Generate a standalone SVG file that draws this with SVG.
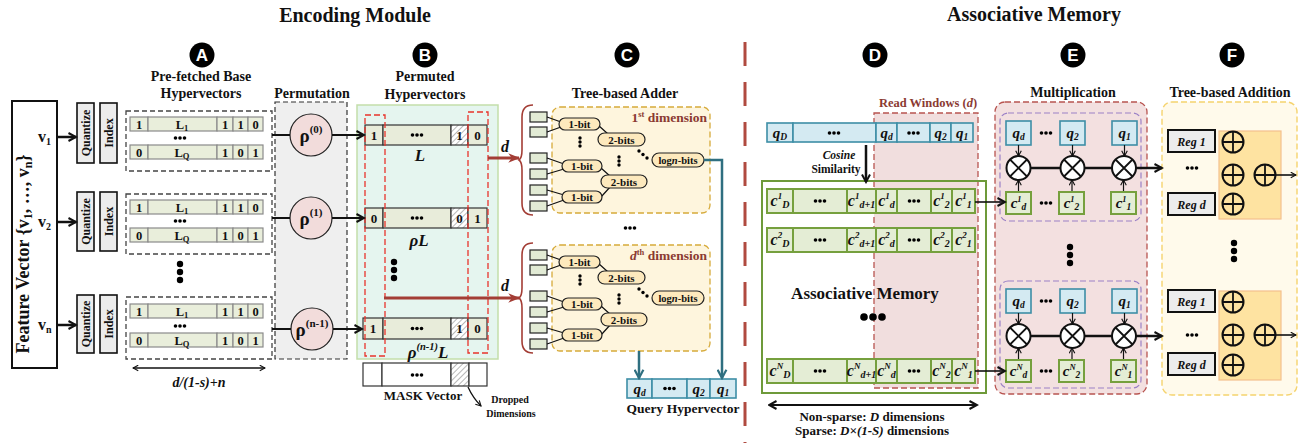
<svg xmlns="http://www.w3.org/2000/svg" width="1304" height="443" viewBox="0 0 1304 443">
<style>
text{font-family:"Liberation Serif","Times New Roman",serif;font-weight:bold;fill:#111}
.m{text-anchor:middle}
.i{font-style:italic}
.lt{font-family:"Liberation Sans",Arial,sans-serif;fill:#fff}
.dr{fill:#8b3a32}
.box{fill:#fff;stroke:#111;stroke-width:2}
.gbox{fill:#ececec;stroke:#111;stroke-width:1.6}
.dash{fill:none;stroke:#444;stroke-width:1.3;stroke-dasharray:5 3}
.ca{fill:#e9eedb;stroke:#8a8a8a;stroke-width:1.2}
.cb{fill:#e8ecda;stroke:#333;stroke-width:1.2}
.cw{fill:#fff;stroke:#333;stroke-width:1.2}
.hat{fill:url(#hatch);stroke:#333;stroke-width:1.2}
.rho{fill:#f2dcdb;stroke:#222;stroke-width:1.2}
.red{fill:none;stroke:#e8332b;stroke-width:1.3;stroke-dasharray:6 3}
.sq{fill:#e2ebd5;stroke:#222;stroke-width:1.2}
.pill{fill:#fde9bd;stroke:#222;stroke-width:1.2}
.ln{stroke:#111;stroke-width:1.2;fill:none}
.ybox{fill:#fef5dd;stroke:#d6aa3a;stroke-width:1.3;stroke-dasharray:6 3}
.brace{fill:none;stroke:#a33d35;stroke-width:1.6}
.darr{stroke:#a33d35;stroke-width:3;fill:none;marker-end:url(#ma-red)}
.teal{stroke:#2f6f80;stroke-width:2.5;fill:none;marker-end:url(#ma-teal)}
.q{fill:#d4eaf2;stroke:#3d8ea6;stroke-width:1.6}
.c{fill:#e4edd5;stroke:#76a03e;stroke-width:2}
.ar{stroke:#111;stroke-width:2.5;fill:none;marker-end:url(#ma)}
.ars{stroke:#111;stroke-width:1.2;fill:none;marker-end:url(#ma-s)}
.op{fill:#fff;stroke:#111;stroke-width:2}
.opl{stroke:#111;stroke-width:1.8}
.pink{fill:#f3e0e0;stroke:#b85450;stroke-width:1.3;stroke-dasharray:6 3}
.purp{fill:none;stroke:#9b80c6;stroke-width:1.2;stroke-dasharray:6 3}
.fbox{fill:#fffaeb;stroke:#f5d36e;stroke-width:1.4;stroke-dasharray:6 3}
.orng{fill:#fee3a1;stroke:#f3c08e;stroke-width:1.2}
.reg{fill:#ececec;stroke:#111;stroke-width:2}
</style>
<defs>
<pattern id="hatch" width="4" height="4" patternUnits="userSpaceOnUse" patternTransform="rotate(45)">
<rect width="4" height="4" fill="#fff"/><line x1="0" y1="0" x2="0" y2="4" stroke="#888" stroke-width="1.2"/>
</pattern>
<marker id="ma" viewBox="0 0 10 10" refX="8.5" refY="5" markerWidth="10" markerHeight="10" markerUnits="userSpaceOnUse" orient="auto-start-reverse"><path d="M1,1 L8.5,5 L1,9" fill="none" stroke="#111" stroke-width="2"/></marker>
<marker id="ma-s" viewBox="0 0 10 10" refX="8.5" refY="5" markerWidth="7" markerHeight="7" markerUnits="userSpaceOnUse" orient="auto-start-reverse"><path d="M1,1 L8.5,5 L1,9" fill="none" stroke="#111" stroke-width="1.6"/></marker>
<marker id="ma-red" viewBox="0 0 10 10" refX="9" refY="5" markerWidth="12" markerHeight="12" markerUnits="userSpaceOnUse" orient="auto"><path d="M0,1 L10,5 L0,9 L3,5 z" fill="#a33d35"/></marker>
<marker id="ma-teal" viewBox="0 0 10 10" refX="8.5" refY="5" markerWidth="11" markerHeight="11" markerUnits="userSpaceOnUse" orient="auto"><path d="M1,1 L8.5,5 L1,9" fill="none" stroke="#2f6f80" stroke-width="2"/></marker>
<g id="hd"><circle cx="-4.5" r="1.8"/><circle r="1.8"/><circle cx="4.5" r="1.8"/></g>
<g id="vd"><circle cy="-8" r="3.2"/><circle r="3.2"/><circle cy="8" r="3.2"/></g>
<g id="vds"><circle cy="-4" r="1.7"/><circle r="1.7"/><circle cy="4" r="1.7"/></g>
</defs>

<rect width="1304" height="443" fill="#fff"/>

<!-- Titles -->
<text x="355" y="22" class="m" font-size="20">Encoding Module</text>
<text x="1034" y="21" class="m" font-size="20">Associative Memory</text>
<g id="letters">
<circle cx="202" cy="55" r="12.5" fill="#000"/><text x="202" y="61" class="m lt" font-size="17">A</text>
<circle cx="425" cy="55" r="12.5" fill="#000"/><text x="425" y="61" class="m lt" font-size="17">B</text>
<circle cx="627" cy="55" r="12.5" fill="#000"/><text x="627" y="61" class="m lt" font-size="17">C</text>
<circle cx="875" cy="55" r="12.5" fill="#000"/><text x="875" y="61" class="m lt" font-size="17">D</text>
<circle cx="1073" cy="55" r="12.5" fill="#000"/><text x="1073" y="61" class="m lt" font-size="17">E</text>
<circle cx="1232" cy="55" r="12.5" fill="#000"/><text x="1232" y="61" class="m lt" font-size="17">F</text>
</g>

<!-- Feature vector -->
<g id="feature-vector">
<rect x="12" y="101" width="45" height="267" class="box"/>
<text class="m" font-size="18" transform="translate(29,254) rotate(-90)">Feature Vector {v<tspan font-size="12" dy="3">1</tspan><tspan dy="-3">, …, v</tspan><tspan font-size="12" dy="3">n</tspan><tspan dy="-3">}</tspan></text>
<text x="38" y="142" font-size="16">v<tspan font-size="10" dy="3">1</tspan></text>
<text x="38" y="227" font-size="16">v<tspan font-size="10" dy="3">2</tspan></text>
<text x="38" y="330" font-size="16">v<tspan font-size="10" dy="3">n</tspan></text>
</g>

<g id="quantize-index">
<rect x="77" y="103" width="17" height="60" class="gbox"/>
<text class="m" font-size="12" transform="translate(89.5,133) rotate(-90)">Quantize</text>
<rect x="100" y="103" width="17" height="60" class="gbox"/>
<text class="m" font-size="12" transform="translate(112.5,133) rotate(-90)">Index</text>
<rect x="77" y="192" width="17" height="59" class="gbox"/>
<text class="m" font-size="12" transform="translate(89.5,221.5) rotate(-90)">Quantize</text>
<rect x="100" y="192" width="17" height="59" class="gbox"/>
<text class="m" font-size="12" transform="translate(112.5,221.5) rotate(-90)">Index</text>
<rect x="77" y="295" width="17" height="58" class="gbox"/>
<text class="m" font-size="12" transform="translate(89.5,324) rotate(-90)">Quantize</text>
<rect x="100" y="295" width="17" height="58" class="gbox"/>
<text class="m" font-size="12" transform="translate(112.5,324) rotate(-90)">Index</text>
</g>

<!-- A: base hypervectors -->
<g id="base-hypervectors">
<text x="201" y="81" class="m" font-size="14">Pre-fetched Base</text>
<text x="201" y="98" class="m" font-size="14">Hypervectors</text>
<g id="base-group-1" transform="translate(0,111)">
<rect x="126" y="0" width="146" height="60" class="dash"/>
<rect x="130" y="6" width="18" height="14" class="ca"/><rect x="148" y="6" width="69" height="14" class="ca"/><rect x="217" y="6" width="16" height="14" class="ca"/><rect x="233" y="6" width="15" height="14" class="ca"/><rect x="248" y="6" width="15" height="14" class="ca"/>
<text x="139" y="17.5" class="m" font-size="12.5">1</text><text x="182" y="17.5" class="m" font-size="12.5">L<tspan font-size="8.5" dy="2">1</tspan></text><text x="225" y="17.5" class="m" font-size="12.5">1</text><text x="240.5" y="17.5" class="m" font-size="12.5">1</text><text x="255.5" y="17.5" class="m" font-size="12.5">0</text>
<use href="#hd" x="180" y="27"/>
<rect x="130" y="34" width="18" height="14" class="ca"/><rect x="148" y="34" width="69" height="14" class="ca"/><rect x="217" y="34" width="16" height="14" class="ca"/><rect x="233" y="34" width="15" height="14" class="ca"/><rect x="248" y="34" width="15" height="14" class="ca"/>
<text x="139" y="45.5" class="m" font-size="12.5">0</text><text x="182" y="45.5" class="m" font-size="12.5">L<tspan font-size="8.5" dy="2">Q</tspan></text><text x="225" y="45.5" class="m" font-size="12.5">1</text><text x="240.5" y="45.5" class="m" font-size="12.5">0</text><text x="255.5" y="45.5" class="m" font-size="12.5">1</text>
</g>
<g id="base-group-2" transform="translate(0,194)">
<rect x="126" y="0" width="146" height="60" class="dash"/>
<rect x="130" y="6" width="18" height="14" class="ca"/><rect x="148" y="6" width="69" height="14" class="ca"/><rect x="217" y="6" width="16" height="14" class="ca"/><rect x="233" y="6" width="15" height="14" class="ca"/><rect x="248" y="6" width="15" height="14" class="ca"/>
<text x="139" y="17.5" class="m" font-size="12.5">1</text><text x="182" y="17.5" class="m" font-size="12.5">L<tspan font-size="8.5" dy="2">1</tspan></text><text x="225" y="17.5" class="m" font-size="12.5">1</text><text x="240.5" y="17.5" class="m" font-size="12.5">1</text><text x="255.5" y="17.5" class="m" font-size="12.5">0</text>
<use href="#hd" x="180" y="27"/>
<rect x="130" y="34" width="18" height="14" class="ca"/><rect x="148" y="34" width="69" height="14" class="ca"/><rect x="217" y="34" width="16" height="14" class="ca"/><rect x="233" y="34" width="15" height="14" class="ca"/><rect x="248" y="34" width="15" height="14" class="ca"/>
<text x="139" y="45.5" class="m" font-size="12.5">0</text><text x="182" y="45.5" class="m" font-size="12.5">L<tspan font-size="8.5" dy="2">Q</tspan></text><text x="225" y="45.5" class="m" font-size="12.5">1</text><text x="240.5" y="45.5" class="m" font-size="12.5">0</text><text x="255.5" y="45.5" class="m" font-size="12.5">1</text>
</g>
<use href="#vd" x="180" y="272"/>
<g id="base-group-n" transform="translate(0,297)">
<rect x="126" y="0" width="146" height="62" class="dash"/>
<rect x="130" y="7" width="18" height="14" class="ca"/><rect x="148" y="7" width="69" height="14" class="ca"/><rect x="217" y="7" width="16" height="14" class="ca"/><rect x="233" y="7" width="15" height="14" class="ca"/><rect x="248" y="7" width="15" height="14" class="ca"/>
<text x="139" y="18.5" class="m" font-size="12.5">1</text><text x="182" y="18.5" class="m" font-size="12.5">L<tspan font-size="8.5" dy="2">1</tspan></text><text x="225" y="18.5" class="m" font-size="12.5">1</text><text x="240.5" y="18.5" class="m" font-size="12.5">1</text><text x="255.5" y="18.5" class="m" font-size="12.5">0</text>
<use href="#hd" x="180" y="29"/>
<rect x="130" y="36" width="18" height="14" class="ca"/><rect x="148" y="36" width="69" height="14" class="ca"/><rect x="217" y="36" width="16" height="14" class="ca"/><rect x="233" y="36" width="15" height="14" class="ca"/><rect x="248" y="36" width="15" height="14" class="ca"/>
<text x="139" y="47.5" class="m" font-size="12.5">0</text><text x="182" y="47.5" class="m" font-size="12.5">L<tspan font-size="8.5" dy="2">Q</tspan></text><text x="225" y="47.5" class="m" font-size="12.5">1</text><text x="240.5" y="47.5" class="m" font-size="12.5">0</text><text x="255.5" y="47.5" class="m" font-size="12.5">1</text>
</g>
<text x="199" y="387" class="m i" font-size="14">d/(1-s)+n</text>
</g>

<!-- Permutation -->
<g id="permutation">
<rect x="275" y="102" width="72" height="257" fill="#efefef" stroke="#333" stroke-width="1.2" stroke-dasharray="5 3"/>
<text x="312" y="98" class="m" font-size="14">Permutation</text>
<circle cx="311" cy="135" r="21" class="rho"/>
<text x="311" y="142" class="m" font-size="19">ρ<tspan font-size="11" dy="-9">(0)</tspan></text>
<circle cx="311" cy="218" r="21" class="rho"/>
<text x="311" y="225" class="m" font-size="19">ρ<tspan font-size="11" dy="-9">(1)</tspan></text>
<circle cx="312" cy="329" r="21" class="rho"/>
<text x="312" y="336" class="m" font-size="19">ρ<tspan font-size="11" dy="-9">(n-1)</tspan></text>
</g>

<!-- B: permuted hypervectors -->
<g id="permuted-hypervectors">
<rect x="357" y="105" width="141" height="254" fill="#e5f5ef" stroke="#c3deaa" stroke-width="1.5"/>
<text x="425" y="81" class="m" font-size="14">Permuted</text>
<text x="425" y="99" class="m" font-size="14">Hypervectors</text>
<rect x="365" y="125" width="18" height="20" class="cb"/><rect x="383" y="125" width="68" height="20" class="cb"/><rect x="451" y="125" width="17" height="20" class="hat"/><rect x="468" y="125" width="19" height="20" class="cb"/>
<text x="374" y="139.5" class="m" font-size="13">1</text><use href="#hd" x="417" y="135"/><text x="459.5" y="139.5" class="m" font-size="13">1</text><text x="477.5" y="139.5" class="m" font-size="13">0</text>
<text x="420" y="161" class="m i" font-size="17">L</text>
<rect x="365" y="208" width="18" height="20" class="cb"/><rect x="383" y="208" width="68" height="20" class="cb"/><rect x="451" y="208" width="17" height="20" class="hat"/><rect x="468" y="208" width="19" height="20" class="cb"/>
<text x="374" y="222.5" class="m" font-size="13">0</text><use href="#hd" x="417" y="218"/><text x="459.5" y="222.5" class="m" font-size="13">0</text><text x="477.5" y="222.5" class="m" font-size="13">1</text>
<text x="419" y="246" class="m i" font-size="17">ρL</text>
<use href="#vd" x="394" y="270"/>
<rect x="363" y="318" width="20" height="21" class="cb"/><rect x="383" y="318" width="68" height="21" class="cb"/><rect x="451" y="318" width="17" height="21" class="hat"/><rect x="468" y="318" width="19" height="21" class="cb"/>
<text x="373" y="333" class="m" font-size="13">1</text><use href="#hd" x="417" y="328.5"/><text x="459.5" y="333" class="m" font-size="13">1</text><text x="477.5" y="333" class="m" font-size="13">0</text>
<text x="428" y="358" class="m i" font-size="17">ρ<tspan font-size="10.5" dy="-8">(n-1)</tspan><tspan dy="8">L</tspan></text>
<rect x="365" y="115" width="20" height="241" class="red"/>
<rect x="468" y="112" width="20" height="241" class="red"/>
</g>

<g id="mask-vector">
<rect x="363" y="363" width="19" height="23" class="cw"/><rect x="382" y="363" width="69" height="23" class="cw"/><rect x="451" y="363" width="18" height="23" class="hat"/><rect x="469" y="363" width="18" height="23" class="cw"/>
<use href="#hd" x="417" y="375"/>
<text x="423" y="400" class="m" font-size="13">MASK Vector</text>
<text x="510" y="403" class="m" font-size="10">Dropped</text>
<text x="511" y="417" class="m" font-size="10">Dimensions</text>
</g>

<!-- C: tree-based adder -->
<g id="tree-adder">
<text x="625" y="98" class="m" font-size="14">Tree-based Adder</text>
<g id="adder-dim-1">
<path class="brace" d="M533,105 Q522,105 522,117 L522,150 Q522,158 519,160 Q522,162 522,170 L522,203 Q522,215 533,215"/>
<rect x="552" y="107" width="158" height="106" rx="8" class="ybox"/>
<text x="707" y="122" class="dr" text-anchor="end" font-size="13.5">1<tspan font-size="8.5" dy="-5">st</tspan><tspan dy="5"> dimension</tspan></text>
<rect x="530" y="112" width="17" height="10" class="sq"/><rect x="530" y="127" width="17" height="10" class="sq"/><rect x="530" y="153" width="17" height="10" class="sq"/><rect x="530" y="169" width="17" height="10" class="sq"/><rect x="530" y="185" width="17" height="10" class="sq"/><rect x="530" y="201" width="17" height="10" class="sq"/>
<path class="ln" d="M547,117 L561,122 M547,132 L561,127 M547,158 L564,164 M547,174 L564,169 M547,190 L564,195 M547,206 L564,200 M598,125 L608,134 M601,168 L611,177 M601,197 L611,186"/>
<rect x="559" y="118" width="41" height="12" rx="6" class="pill"/><text x="579.5" y="128" class="m" font-size="11">1-bit</text>
<rect x="562" y="160" width="40" height="12" rx="6" class="pill"/><text x="582" y="170" class="m" font-size="11">1-bit</text>
<rect x="562" y="191" width="40" height="12" rx="6" class="pill"/><text x="582" y="201" class="m" font-size="11">1-bit</text>
<rect x="598" y="133" width="47" height="13" rx="6.5" class="pill"/><text x="621.5" y="143.5" class="m" font-size="11">2-bits</text>
<rect x="601" y="175" width="46" height="13" rx="6.5" class="pill"/><text x="624" y="185.5" class="m" font-size="11">2-bits</text>
<rect x="652" y="153" width="52" height="14" rx="7" class="pill"/><text x="678" y="164" class="m" font-size="10.5">log<tspan class="i">n</tspan>-bits</text>
<use href="#vds" x="580" y="142"/><use href="#vds" x="619" y="161"/>
<circle cx="639" cy="151" r="1.7"/><circle cx="643" cy="154.5" r="1.7"/><circle cx="647" cy="158" r="1.7"/>
</g>
<use href="#hd" x="630" y="228"/>
<g id="adder-dim-d" transform="translate(0,138)">
<path class="brace" d="M533,105 Q522,105 522,117 L522,150 Q522,158 519,160 Q522,162 522,170 L522,203 Q522,215 533,215"/>
<rect x="552" y="107" width="158" height="106" rx="8" class="ybox"/>
<text x="707" y="122" class="dr" text-anchor="end" font-size="13.5"><tspan class="i">d</tspan><tspan font-size="8.5" dy="-5">th</tspan><tspan dy="5"> dimension</tspan></text>
<rect x="530" y="112" width="17" height="10" class="sq"/><rect x="530" y="127" width="17" height="10" class="sq"/><rect x="530" y="153" width="17" height="10" class="sq"/><rect x="530" y="169" width="17" height="10" class="sq"/><rect x="530" y="185" width="17" height="10" class="sq"/><rect x="530" y="201" width="17" height="10" class="sq"/>
<path class="ln" d="M547,117 L561,122 M547,132 L561,127 M547,158 L564,164 M547,174 L564,169 M547,190 L564,195 M547,206 L564,200 M598,125 L608,134 M601,168 L611,177 M601,197 L611,186"/>
<rect x="559" y="118" width="41" height="12" rx="6" class="pill"/><text x="579.5" y="128" class="m" font-size="11">1-bit</text>
<rect x="562" y="160" width="40" height="12" rx="6" class="pill"/><text x="582" y="170" class="m" font-size="11">1-bit</text>
<rect x="562" y="191" width="40" height="12" rx="6" class="pill"/><text x="582" y="201" class="m" font-size="11">1-bit</text>
<rect x="598" y="133" width="47" height="13" rx="6.5" class="pill"/><text x="621.5" y="143.5" class="m" font-size="11">2-bits</text>
<rect x="601" y="175" width="46" height="13" rx="6.5" class="pill"/><text x="624" y="185.5" class="m" font-size="11">2-bits</text>
<rect x="652" y="153" width="52" height="14" rx="7" class="pill"/><text x="678" y="164" class="m" font-size="10.5">log<tspan class="i">n</tspan>-bits</text>
<use href="#vds" x="580" y="142"/><use href="#vds" x="619" y="161"/>
<circle cx="639" cy="151" r="1.7"/><circle cx="643" cy="154.5" r="1.7"/><circle cx="647" cy="158" r="1.7"/>
</g>
</g>

<g id="query-hypervector">
<rect x="627" y="379" width="25" height="19" class="q"/><rect x="652" y="379" width="35" height="19" class="q"/><rect x="687" y="379" width="23" height="19" class="q"/><rect x="710" y="379" width="26" height="19" class="q"/>
<text x="639.5" y="393.5" class="m i" font-size="15">q<tspan font-size="9.5" dy="2">d</tspan></text>
<use href="#hd" x="669.5" y="388.5"/>
<text x="698.5" y="393.5" class="m i" font-size="15">q<tspan font-size="9.5" dy="2">2</tspan></text>
<text x="723" y="393.5" class="m i" font-size="15">q<tspan font-size="9.5" dy="2">1</tspan></text>
<text x="683" y="413" class="m" font-size="13.5">Query Hypervector</text>
</g>

<!-- divider -->
<line x1="745" y1="42" x2="745" y2="443" stroke="#b04a40" stroke-width="3" stroke-dasharray="24 16"/>

<!-- D: associative memory -->
<g id="associative-memory">
<rect x="874" y="113" width="104" height="275" fill="#f1dede" stroke="#b85450" stroke-width="1.3" stroke-dasharray="6 3"/>
<text x="928" y="107" class="m dr" font-size="12.5">Read Windows (<tspan class="i">d</tspan>)</text>
<rect x="762" y="181" width="224" height="212" fill="none" stroke="#6e9a3a" stroke-width="2"/>
<g id="query-row">
<rect x="767" y="123" width="26" height="19" class="q"/><rect x="793" y="123" width="83" height="19" class="q"/><rect x="876" y="123" width="21" height="19" class="q"/><rect x="897" y="123" width="33" height="19" class="q"/><rect x="930" y="123" width="21" height="19" class="q"/><rect x="951" y="123" width="22" height="19" class="q"/>
<text x="780" y="137.5" class="m i" font-size="15">q<tspan font-size="9.5" dy="2">D</tspan></text>
<use href="#hd" x="834" y="133"/>
<text x="886.5" y="137.5" class="m i" font-size="15">q<tspan font-size="9.5" dy="2">d</tspan></text>
<use href="#hd" x="913.5" y="133"/>
<text x="940.5" y="137.5" class="m i" font-size="15">q<tspan font-size="9.5" dy="2">2</tspan></text>
<text x="962" y="137.5" class="m i" font-size="15">q<tspan font-size="9.5" dy="2">1</tspan></text>
</g>
<text x="839" y="159" class="m i" font-size="11.5">Cosine</text>
<text x="836" y="173" class="m" font-size="11.5">Similarity</text>
<g id="class-row-1">
<rect x="767" y="189" width="26" height="24" class="c"/><rect x="793" y="189" width="54" height="24" class="c"/><rect x="847" y="189" width="29" height="24" class="c"/><rect x="876" y="189" width="21" height="24" class="c"/><rect x="897" y="189" width="34" height="24" class="c"/><rect x="931" y="189" width="21" height="24" class="c"/><rect x="952" y="189" width="23" height="24" class="c"/>
<text x="780" y="206" class="m i" font-size="16">c<tspan font-size="9" dy="-7">1</tspan><tspan font-size="10" dy="9">D</tspan></text>
<use href="#hd" x="820" y="201"/>
<text x="861.5" y="206" class="m i" font-size="16">c<tspan font-size="9" dy="-7">1</tspan><tspan font-size="10" dy="9">d+1</tspan></text>
<text x="886.5" y="206" class="m i" font-size="16">c<tspan font-size="9" dy="-7">1</tspan><tspan font-size="10" dy="9">d</tspan></text>
<use href="#hd" x="914" y="201"/>
<text x="941.5" y="206" class="m i" font-size="16">c<tspan font-size="9" dy="-7">1</tspan><tspan font-size="10" dy="9">2</tspan></text>
<text x="963.5" y="206" class="m i" font-size="16">c<tspan font-size="9" dy="-7">1</tspan><tspan font-size="10" dy="9">1</tspan></text>
</g>
<g id="class-row-2">
<rect x="767" y="228" width="26" height="24" class="c"/><rect x="793" y="228" width="54" height="24" class="c"/><rect x="847" y="228" width="29" height="24" class="c"/><rect x="876" y="228" width="21" height="24" class="c"/><rect x="897" y="228" width="34" height="24" class="c"/><rect x="931" y="228" width="21" height="24" class="c"/><rect x="952" y="228" width="23" height="24" class="c"/>
<text x="780" y="245" class="m i" font-size="16">c<tspan font-size="9" dy="-7">2</tspan><tspan font-size="10" dy="9">D</tspan></text>
<use href="#hd" x="820" y="240"/>
<text x="861.5" y="245" class="m i" font-size="16">c<tspan font-size="9" dy="-7">2</tspan><tspan font-size="10" dy="9">d+1</tspan></text>
<text x="886.5" y="245" class="m i" font-size="16">c<tspan font-size="9" dy="-7">2</tspan><tspan font-size="10" dy="9">d</tspan></text>
<use href="#hd" x="914" y="240"/>
<text x="941.5" y="245" class="m i" font-size="16">c<tspan font-size="9" dy="-7">2</tspan><tspan font-size="10" dy="9">2</tspan></text>
<text x="963.5" y="245" class="m i" font-size="16">c<tspan font-size="9" dy="-7">2</tspan><tspan font-size="10" dy="9">1</tspan></text>
</g>
<text x="865" y="299" class="m" font-size="17">Associative Memory</text>
<circle cx="864" cy="317" r="3.8"/><circle cx="873" cy="317" r="3.8"/><circle cx="882" cy="317" r="3.8"/>
<g id="class-row-N">
<rect x="767" y="359" width="26" height="24" class="c"/><rect x="793" y="359" width="54" height="24" class="c"/><rect x="847" y="359" width="29" height="24" class="c"/><rect x="876" y="359" width="21" height="24" class="c"/><rect x="897" y="359" width="34" height="24" class="c"/><rect x="931" y="359" width="21" height="24" class="c"/><rect x="952" y="359" width="23" height="24" class="c"/>
<text x="780" y="376" class="m i" font-size="16">c<tspan font-size="9" dy="-7">N</tspan><tspan font-size="10" dy="9">D</tspan></text>
<use href="#hd" x="820" y="371"/>
<text x="861.5" y="376" class="m i" font-size="16">c<tspan font-size="9" dy="-7">N</tspan><tspan font-size="10" dy="9">d+1</tspan></text>
<text x="886.5" y="376" class="m i" font-size="16">c<tspan font-size="9" dy="-7">N</tspan><tspan font-size="10" dy="9">d</tspan></text>
<use href="#hd" x="914" y="371"/>
<text x="941.5" y="376" class="m i" font-size="16">c<tspan font-size="9" dy="-7">N</tspan><tspan font-size="10" dy="9">2</tspan></text>
<text x="963.5" y="376" class="m i" font-size="16">c<tspan font-size="9" dy="-7">N</tspan><tspan font-size="10" dy="9">1</tspan></text>
</g>
<text x="872" y="421" class="m" font-size="13">Non-sparse: <tspan class="i">D</tspan> dimensions</text>
<text x="872" y="435" class="m" font-size="13">Sparse: <tspan class="i">D×(1-S)</tspan> dimensions</text>
</g>

<!-- E: multiplication -->
<g id="multiplication">
<rect x="995" y="102" width="152" height="292" rx="10" class="pink"/>
<text x="1073" y="97" class="m" font-size="14">Multiplication</text>
<use href="#vd" x="1070" y="255"/>
<g id="mult-row-1">
<rect x="1000" y="113" width="141" height="108" rx="8" class="purp"/>
<rect x="1006" y="121" width="25" height="24" class="q"/><rect x="1060" y="121" width="25" height="24" class="q"/><rect x="1112" y="121" width="25" height="24" class="q"/>
<text x="1018.5" y="138" class="m i" font-size="15">q<tspan font-size="9.5" dy="2">d</tspan></text>
<text x="1072.5" y="138" class="m i" font-size="15">q<tspan font-size="9.5" dy="2">2</tspan></text>
<text x="1124.5" y="138" class="m i" font-size="15">q<tspan font-size="9.5" dy="2">1</tspan></text>
<use href="#hd" x="1046" y="133"/>
<path class="ars" d="M1018.5,145 L1018.5,156"/><path class="ars" d="M1072.5,145 L1072.5,156"/><path class="ars" d="M1124.5,145 L1124.5,156"/>
<path class="ars" d="M1018.5,192 L1018.5,180"/><path class="ars" d="M1072,192 L1072,180"/><path class="ars" d="M1123.5,192 L1123.5,180"/>
<line x1="1030.5" y1="168" x2="1060.5" y2="168" stroke="#111" stroke-width="2.5"/><line x1="1084.5" y1="168" x2="1112" y2="168" stroke="#111" stroke-width="2.5"/>
<circle cx="1018.5" cy="168" r="12" class="op"/><path class="opl" d="M1010,159.5 L1027,176.5 M1027,159.5 L1010,176.5"/>
<circle cx="1072.5" cy="168" r="12" class="op"/><path class="opl" d="M1064,159.5 L1081,176.5 M1081,159.5 L1064,176.5"/>
<circle cx="1124" cy="168" r="12" class="op"/><path class="opl" d="M1115.5,159.5 L1132.5,176.5 M1132.5,159.5 L1115.5,176.5"/>
<rect x="1006" y="192" width="25" height="22" class="c"/><rect x="1059" y="192" width="25" height="22" class="c"/><rect x="1111" y="192" width="25" height="22" class="c"/>
<text x="1018.5" y="208" class="m i" font-size="15">c<tspan font-size="8.5" dy="-6">1</tspan><tspan font-size="9.5" dy="8">d</tspan></text>
<text x="1071.5" y="208" class="m i" font-size="15">c<tspan font-size="8.5" dy="-6">1</tspan><tspan font-size="9.5" dy="8">2</tspan></text>
<text x="1123.5" y="208" class="m i" font-size="15">c<tspan font-size="8.5" dy="-6">1</tspan><tspan font-size="9.5" dy="8">1</tspan></text>
<use href="#hd" x="1046" y="203"/>
</g>
<g id="mult-row-N" transform="translate(0,168)">
<rect x="1000" y="113" width="141" height="107" rx="8" class="purp"/>
<rect x="1006" y="121" width="25" height="24" class="q"/><rect x="1060" y="121" width="25" height="24" class="q"/><rect x="1112" y="121" width="25" height="24" class="q"/>
<text x="1018.5" y="138" class="m i" font-size="15">q<tspan font-size="9.5" dy="2">d</tspan></text>
<text x="1072.5" y="138" class="m i" font-size="15">q<tspan font-size="9.5" dy="2">2</tspan></text>
<text x="1124.5" y="138" class="m i" font-size="15">q<tspan font-size="9.5" dy="2">1</tspan></text>
<use href="#hd" x="1046" y="133"/>
<path class="ars" d="M1018.5,145 L1018.5,156"/><path class="ars" d="M1072.5,145 L1072.5,156"/><path class="ars" d="M1124.5,145 L1124.5,156"/>
<path class="ars" d="M1018.5,192 L1018.5,180"/><path class="ars" d="M1072,192 L1072,180"/><path class="ars" d="M1123.5,192 L1123.5,180"/>
<line x1="1030.5" y1="168" x2="1060.5" y2="168" stroke="#111" stroke-width="2.5"/><line x1="1084.5" y1="168" x2="1112" y2="168" stroke="#111" stroke-width="2.5"/>
<circle cx="1018.5" cy="168" r="12" class="op"/><path class="opl" d="M1010,159.5 L1027,176.5 M1027,159.5 L1010,176.5"/>
<circle cx="1072.5" cy="168" r="12" class="op"/><path class="opl" d="M1064,159.5 L1081,176.5 M1081,159.5 L1064,176.5"/>
<circle cx="1124" cy="168" r="12" class="op"/><path class="opl" d="M1115.5,159.5 L1132.5,176.5 M1132.5,159.5 L1115.5,176.5"/>
<rect x="1006" y="192" width="25" height="22" class="c"/><rect x="1059" y="192" width="25" height="22" class="c"/><rect x="1111" y="192" width="25" height="22" class="c"/>
<text x="1018.5" y="208" class="m i" font-size="15">c<tspan font-size="8.5" dy="-6">N</tspan><tspan font-size="9.5" dy="8">d</tspan></text>
<text x="1071.5" y="208" class="m i" font-size="15">c<tspan font-size="8.5" dy="-6">N</tspan><tspan font-size="9.5" dy="8">2</tspan></text>
<text x="1123.5" y="208" class="m i" font-size="15">c<tspan font-size="8.5" dy="-6">N</tspan><tspan font-size="9.5" dy="8">1</tspan></text>
<use href="#hd" x="1046" y="203"/>
</g>
</g>

<!-- F: tree-based addition -->
<g id="tree-addition">
<rect x="1162" y="102" width="135" height="293" rx="10" class="fbox"/>
<text x="1230" y="97" class="m" font-size="14">Tree-based Addition</text>
<use href="#vd" x="1234" y="251"/>
<g id="add-row-1">
<rect x="1168" y="130" width="47" height="22" class="reg"/><text x="1191.5" y="145.5" class="m i" font-size="12">Reg 1</text>
<use href="#hd" x="1192" y="168"/>
<rect x="1168" y="193" width="47" height="22" class="reg"/><text x="1191.5" y="208.5" class="m i" font-size="12">Reg d</text>
<rect x="1219" y="131" width="62" height="88" class="orng"/>
<circle cx="1233" cy="142" r="10.5" fill="none" stroke="#111" stroke-width="2"/><path class="opl" d="M1222.5,142 L1243.5,142 M1233,131.5 L1233,152.5"/>
<circle cx="1233" cy="175" r="10.5" fill="none" stroke="#111" stroke-width="2"/><path class="opl" d="M1222.5,175 L1243.5,175 M1233,164.5 L1233,185.5"/>
<circle cx="1233" cy="204" r="10.5" fill="none" stroke="#111" stroke-width="2"/><path class="opl" d="M1222.5,204 L1243.5,204 M1233,193.5 L1233,214.5"/>
<circle cx="1265" cy="175" r="10.5" fill="none" stroke="#111" stroke-width="2"/><path class="opl" d="M1254.5,175 L1275.5,175 M1265,164.5 L1265,185.5"/>
<path class="ars" d="M1276,175 L1296,175" style="stroke-width:1.6"/>
</g>
<g id="add-row-N" transform="translate(0,160)">
<rect x="1168" y="130" width="47" height="22" class="reg"/><text x="1191.5" y="145.5" class="m i" font-size="12">Reg 1</text>
<use href="#hd" x="1192" y="175"/>
<rect x="1168" y="193" width="47" height="22" class="reg"/><text x="1191.5" y="208.5" class="m i" font-size="12">Reg d</text>
<rect x="1219" y="131" width="62" height="89" class="orng"/>
<circle cx="1233" cy="142" r="10.5" fill="none" stroke="#111" stroke-width="2"/><path class="opl" d="M1222.5,142 L1243.5,142 M1233,131.5 L1233,152.5"/>
<circle cx="1233" cy="175" r="10.5" fill="none" stroke="#111" stroke-width="2"/><path class="opl" d="M1222.5,175 L1243.5,175 M1233,164.5 L1233,185.5"/>
<circle cx="1233" cy="205" r="10.5" fill="none" stroke="#111" stroke-width="2"/><path class="opl" d="M1222.5,205 L1243.5,205 M1233,194.5 L1233,215.5"/>
<circle cx="1265" cy="175" r="10.5" fill="none" stroke="#111" stroke-width="2"/><path class="opl" d="M1254.5,175 L1275.5,175 M1265,164.5 L1265,185.5"/>
<path class="ars" d="M1276,175 L1296,175" style="stroke-width:1.6"/>
</g>
</g>

<!-- connectors -->
<g id="connectors">
<path class="ar" d="M57,137 L76,137"/>
<path class="ar" d="M57,222 L76,222"/>
<path class="ar" d="M57,325 L76,325"/>
<path d="M272,135 L290,135 M272,218 L290,218 M272,329 L291,329" stroke="#111" stroke-width="2"/>
<path class="ar" d="M332,135 L364,135" style="stroke-width:2"/>
<path class="ar" d="M332,218 L364,218" style="stroke-width:2"/>
<path class="ar" d="M333,329 L362,329" style="stroke-width:2"/>
<path class="darr" d="M488,158 L519,158"/>
<path class="darr" d="M384,298 L519,298"/>
<text x="505" y="152" class="m i" font-size="16">d</text>
<text x="505" y="291" class="m i" font-size="16">d</text>
<path class="ars" d="M468,387 Q473,398 481,406" style="stroke-width:1.3"/>
<path class="teal" d="M704,160 L722,160 L722,378"/>
<path class="teal" d="M639,351 L639,378"/>
<path class="ar" d="M866,145 L866,182"/>
<path class="ar" d="M769,405 L977,405" style="stroke-width:2;marker-start:url(#ma)"/>
<path class="ar" d="M133,368 L265,368" style="stroke-width:1.6;marker-start:url(#ma-s);marker-end:url(#ma-s)"/>
<path class="ar" d="M975,202 L1005,202" style="stroke-width:1.6"/>
<path class="ar" d="M975,371 L1005,371" style="stroke-width:1.6"/>
<path class="ar" d="M1136,168 L1162,168"/>
<path class="ar" d="M1136,336 L1162,336"/>
</g>
</svg>
